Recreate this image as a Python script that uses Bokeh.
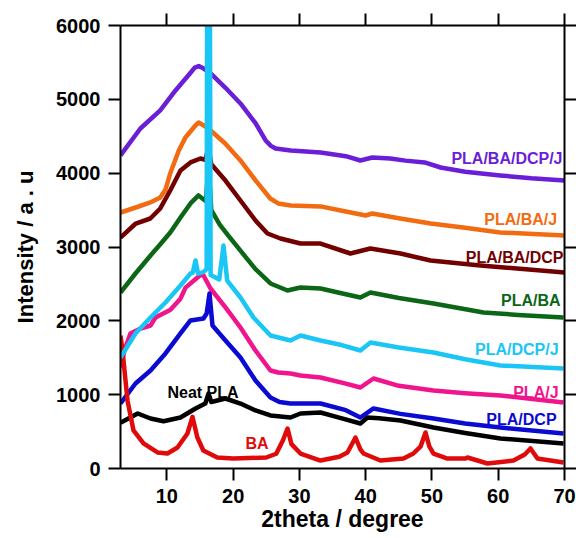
from bokeh.plotting import figure
from bokeh.models import LinearAxis, FixedTicker, Range1d
from bokeh.embed import file_html
from bokeh.resources import INLINE
from bokeh.core.properties import value

# ---------------- data ----------------
x_ticks = [10, 20, 30, 40, 50, 60, 70]
y_ticks = [0, 1000, 2000, 3000, 4000, 5000, 6000]

purple_x = [3, 6, 9, 11.3, 13.6, 14.2, 14.8, 15.5, 16.6, 18.8, 21.1, 23.4, 24.9, 25.7, 26.4, 28.7, 33.2, 37, 39.2, 41, 43.7, 46, 48.9, 51.3, 55, 60.3, 65, 70]
purple_y = [4240, 4605, 4850, 5120, 5364, 5430, 5450, 5420, 5350, 5160, 4944, 4673, 4443, 4370, 4334, 4307, 4280, 4230, 4172, 4212, 4199, 4170, 4145, 4077, 4020, 3969, 3930, 3901]

orange_x = [3, 5.3, 7.5, 9, 9.8, 10.5, 11.8, 12.8, 14.3, 14.8, 15.5, 16.6, 18.8, 21.1, 23.4, 25.6, 26.8, 28.7, 33.2, 37, 40, 41, 45, 49.8, 55, 60.3, 70]
orange_y = [3467, 3535, 3603, 3670, 3780, 3996, 4307, 4483, 4646, 4686, 4650, 4578, 4402, 4172, 3900, 3657, 3590, 3562, 3550, 3480, 3427, 3454, 3390, 3318, 3260, 3197, 3156]

maroon_x = [3, 5.3, 7.5, 9, 10.5, 12.05, 13.56, 15.07, 15.8, 16.28, 16.7, 18.84, 21.1, 23.37, 25.18, 27.14, 30.16, 33.18, 37.7, 40.7, 45.25, 49.78, 57.3, 70]
maroon_y = [3129, 3318, 3386, 3522, 3765, 4036, 4145, 4199, 4180, 4348, 4120, 3900, 3630, 3359, 3183, 3115, 3047, 3047, 2912, 2980, 2912, 2817, 2750, 2655]

green_x = [3, 5.26, 7.53, 9.04, 10.54, 12.05, 13.56, 14.77, 15.9, 16.28, 16.7, 18.0, 19.3, 21.1, 23.37, 25.63, 28.2, 30.16, 33.18, 36, 39.2, 40.72, 45, 50.23, 57.78, 63, 69.85]
green_y = [2384, 2641, 2885, 3040, 3200, 3400, 3590, 3698, 3620, 4131, 3500, 3300, 3150, 2950, 2700, 2506, 2411, 2452, 2438, 2380, 2316, 2384, 2310, 2235, 2113, 2080, 2045]

cyan_x = [3, 5.26, 7.53, 9.79, 12.05, 13.56, 13.9, 14.32, 14.7, 15.5, 16.0, 16.12, 16.42, 16.6, 17.34, 17.9, 18.54, 19.1, 21.1, 23.07, 25.63, 28.65, 30.16, 33.18, 36, 39.2, 40.72, 45, 50.23, 55, 60.34, 69.85]
cyan_y = [1503, 1829, 2045, 2248, 2479, 2641, 2650, 2817, 2640, 2660, 2700, 9000, 9000, 2620, 2587, 2560, 3020, 2546, 2316, 2045, 1801, 1734, 1801, 1734, 1680, 1598, 1707, 1640, 1571, 1480, 1395, 1354]

pink_x = [3, 3.6, 4.5, 6.02, 7.53, 8.28, 10.54, 12.05, 12.81, 14.62, 15.37, 16.58, 18.84, 21.1, 23.37, 25.63, 26.8, 28.65, 30.16, 33.18, 37, 39.2, 41.18, 45, 50.23, 55, 60.34, 69.85]
pink_y = [1368, 1600, 1829, 1896, 1937, 2045, 2150, 2300, 2450, 2587, 2641, 2438, 2181, 1910, 1598, 1327, 1300, 1287, 1260, 1233, 1150, 1097, 1219, 1120, 1056, 1020, 989, 894]

blue_x = [3, 5.26, 7.53, 9.79, 12.05, 13.56, 15.52, 16.0, 16.43, 16.88, 18.84, 21.1, 23.37, 25.63, 27.0, 28.65, 30.16, 33.18, 37, 39.2, 41.18, 45.25, 50.23, 55, 60.34, 69.85]
blue_y = [880, 1151, 1327, 1558, 1829, 2005, 2032, 2100, 2370, 1937, 1734, 1503, 1192, 962, 900, 880, 880, 880, 790, 691, 813, 740, 677, 610, 555, 474]

black_x = [3, 5.6, 7.53, 9.49, 12.05, 14.32, 15.8, 16.28, 16.7, 18.84, 21.1, 23.37, 25.63, 28.65, 30.16, 33.18, 36, 39.2, 40.27, 42, 45.25, 50.23, 55, 60.34, 69.85]
black_y = [620, 745, 677, 640, 691, 813, 880, 1016, 900, 948, 880, 786, 718, 691, 745, 758, 690, 610, 691, 680, 650, 555, 480, 406, 339]

red_x = [3, 3.3, 4.06, 4.96, 6.47, 8.58, 10.09, 11.6, 13.1, 13.86, 14.6, 15.5, 17.6, 20, 25, 26.5, 27.5, 28.2, 28.8, 30.16, 33.18, 36, 37.25, 38.46, 39.2, 39.67, 42.23, 45.7, 47.2, 48.3, 49.02, 49.6, 50.23, 52.34, 55.06, 55.36, 58.38, 62.3, 64.0, 64.87, 65.92, 69.85]
red_y = [1800, 1600, 920, 515, 339, 217, 203, 284, 474, 700, 420, 244, 149, 135, 149, 200, 380, 542, 330, 203, 108, 160, 217, 420, 260, 203, 108, 135, 203, 300, 488, 300, 203, 135, 135, 149, 68, 108, 190, 271, 135, 81]

names = ["PLA/BA/DCP/J", "PLA/BA/J", "PLA/BA/DCP", "PLA/BA", "PLA/J", "PLA/DCP", "Neat PLA", "BA", "PLA/DCP/J"]
colors = ["#6A1ED8", "#F26B10", "#730000", "#0B6616", "#F0158C", "#0A0AD2", "#000000", "#E00A0A", "#1AC6F5"]
series_x = [purple_x, orange_x, maroon_x, green_x, pink_x, blue_x, black_x, red_x, cyan_x]
series_y = [purple_y, orange_y, maroon_y, green_y, pink_y, blue_y, black_y, red_y, cyan_y]

# label anchor positions (data coordinates) and alignment
label_x = [69.7, 68.9, 69.85, 69.4, 69.1, 68.8, 10.09, 21.86, 69.1]
label_y = [4199, 3373, 2858, 2275, 1029, 664, 1029, 339, 1612]
label_align = ["right", "right", "right", "right", "right", "right", "left", "left", "right"]

FONT = "Liberation Sans"

p = figure(width=576, height=538, x_range=Range1d(3, 70), y_range=Range1d(0, 6000),
           output_backend="svg", toolbar_location=None,
           min_border_left=120, min_border_right=12, min_border_top=25, min_border_bottom=70)
p.xgrid.visible = False
p.ygrid.visible = False
p.outline_line_color = None
p.background_fill_color = "white"
p.border_fill_color = "white"


def style(ax, ticks, show_labels=True):
    ax.ticker = FixedTicker(ticks=ticks)
    ax.axis_line_width = 2
    ax.axis_line_color = "black"
    ax.major_tick_line_width = 2
    ax.major_tick_line_color = "black"
    ax.major_tick_out = 12
    ax.major_tick_in = 0
    ax.minor_tick_line_color = None
    ax.major_label_text_font = FONT
    ax.major_label_text_font_style = "bold"
    ax.major_label_text_color = "black"
    if show_labels:
        ax.major_label_text_font_size = "20px"
        ax.major_label_standoff = 8
    else:
        ax.major_label_overrides = {t: "" for t in ticks}
        ax.major_label_text_font_size = "1px"
        ax.major_label_standoff = 0


xb = p.xaxis[0]
style(xb, x_ticks)
xb.axis_label = "2theta / degree"
xb.axis_label_text_font = FONT
xb.axis_label_text_font_style = "bold"
xb.axis_label_text_font_size = "23px"
xb.axis_label_text_color = "black"
xb.axis_label_standoff = 0

yl = p.yaxis[0]
style(yl, y_ticks)
yl.axis_label = "Intensity / a . u"
yl.axis_label_text_font = FONT
yl.axis_label_text_font_style = "bold"
yl.axis_label_text_font_size = "22px"
yl.axis_label_text_color = "black"
yl.axis_label_standoff = 15

xt = LinearAxis()
style(xt, x_ticks, show_labels=False)
p.add_layout(xt, "above")

yr = LinearAxis()
style(yr, y_ticks, show_labels=False)
p.add_layout(yr, "right")

for xs, ys, c in zip(series_x, series_y, colors):
    p.line(xs, ys, line_color=c, line_width=4.5, line_join="round")

for name, c, lx, ly, al in zip(names, colors, label_x, label_y, label_align):
    p.text(x=[lx], y=[ly], text=[name], text_color=c, text_align=al,
           text_baseline="alphabetic", text_font=value(FONT),
           text_font_style="bold", text_font_size="16px")

open("out.html", "w").write(file_html(p, INLINE))
